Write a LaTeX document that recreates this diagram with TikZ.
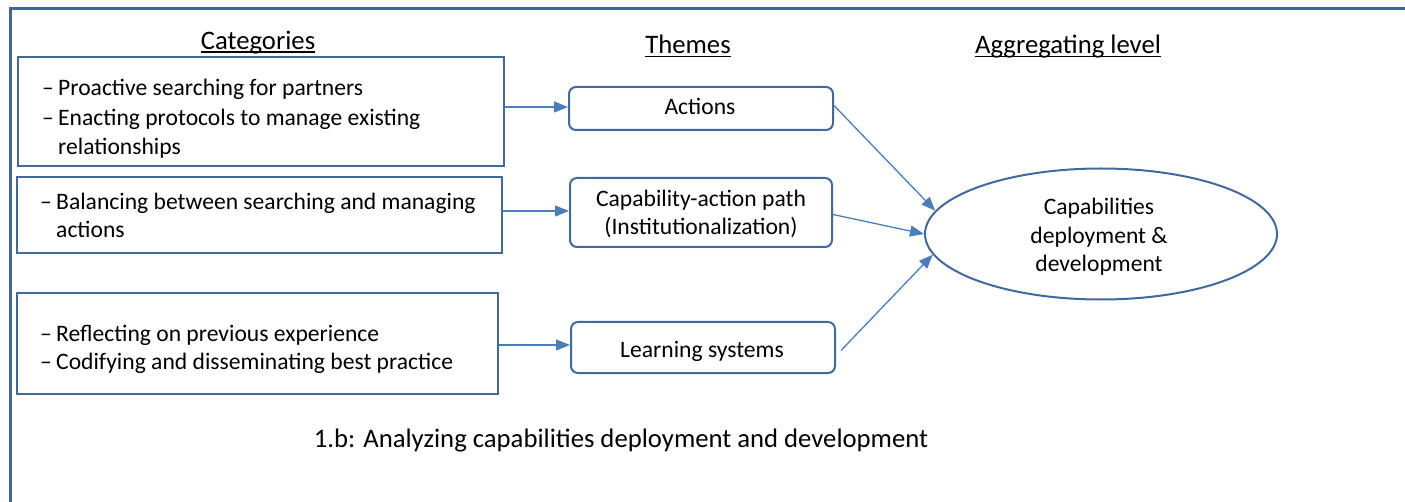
\documentclass[tikz,border=0pt]{standalone}
\usepackage{fontspec}
\setmainfont{Carlito}
\usetikzlibrary{shapes.geometric,arrows.meta}
\definecolor{frameblue}{HTML}{41679A}
\definecolor{boxblue}{HTML}{41699E}
\definecolor{arrowblue}{HTML}{4A7EBB}
\newcommand{\bul}{\makebox[16pt][l]{–}}
\begin{document}
\begin{tikzpicture}[x=1pt,y=-1pt,
  every node/.style={font=\fontsize{23.6}{29.5}\selectfont, text=black},
  catbox/.style={draw=boxblue, line width=2pt, rectangle, inner sep=0pt},
  themebox/.style={draw=boxblue, line width=2pt, rectangle, rounded corners=7pt, inner sep=0pt},
  ln/.style={anchor=base west, inner sep=0pt},
  cln/.style={anchor=base, inner sep=0pt},
  conn/.style={draw=arrowblue, line width=1.3pt, -{Triangle[length=14pt,width=11pt]}},
  heading/.style={anchor=base, inner sep=0pt, font=\fontsize{26.7}{32}\selectfont},
  uline/.style={line width=1.4pt, black}
]
\useasboundingbox (0,0) rectangle (1405,502);
\clip (0,0) rectangle (1405,502);
\fill[white] (0,0) rectangle (1405,502);
% frame
\draw[frameblue, line width=3pt] (10,520) -- (10,9) -- (1420,9);

% headings
\node[heading] (hcat) at (258,50) {Categories};
\node[heading] (hthm) at (688,53.3) {Themes};
\node[heading] (hagg) at (1068,53.3) {Aggregating level};
\draw[uline] ([yshift=-2.2pt]hcat.base west) -- ([yshift=-2.2pt]hcat.base east);
\draw[uline] ([yshift=-3.3pt]hthm.base west) -- ([yshift=-3.3pt]hthm.base east);
\draw[uline] ([yshift=-3.3pt]hagg.base west) -- ([yshift=-3.3pt]hagg.base east);

% category boxes
\node[catbox, minimum width=486pt, minimum height=109pt] (c1) at (261,111.5) {};
\node[catbox, minimum width=485pt, minimum height=76pt] (c2) at (259.5,215) {};
\node[catbox, minimum width=481pt, minimum height=101pt] (c3) at (257.5,343.5) {};

\node[ln] (c1a) at (42,96) {\bul Proactive searching for partners};
\node[ln] (c1b) at (42,125.5) {\bul Enacting protocols to manage existing};
\node[ln] (c1c) at (42,154.5) {\phantom{\bul}relationships};
\node[ln] (c2a) at (40,210) {\bul Balancing between searching and managing};
\node[ln] (c2b) at (40,238) {\phantom{\bul}actions};
\node[ln] (c3a) at (40,341.5) {\bul Reflecting on previous experience};
\node[ln] (c3b) at (40,370) {\bul Codifying and disseminating best practice};

% theme boxes
\node[themebox, minimum width=264pt, minimum height=43pt] (t1) at (701,108.5) {};
\node[themebox, minimum width=262pt, minimum height=69pt] (t2) at (701,212.5) {};
\node[themebox, minimum width=264pt, minimum height=51pt] (t3) at (703,347.5) {};
\node[cln] (t1a) at (700,115) {Actions};
\node[cln] (t2a) at (701,206.7) {Capability-action path};
\node[cln] (t2b) at (701,235) {(Institutionalization)};
\node[cln] (t3a) at (702,357.5) {Learning systems};

% ellipse
\node[draw=boxblue, line width=2pt, ellipse, minimum width=352pt, minimum height=131pt, inner sep=0pt] (agg) at (1101,234) {};
\node[cln] (ag1) at (1099,214.5) {Capabilities};
\node[cln] (ag2) at (1099,243.5) {deployment \&};
\node[cln] (ag3) at (1099,272) {development};

% caption
\node[heading] (cap) at (621,447) {1.b: Analyzing capabilities deployment and development};

% connectors
\draw[conn] (c1.east |- 0,107) -- (t1.west |- 0,107);
\draw[conn] (c2.east |- 0,211) -- (t2.west |- 0,211);
\draw[conn] (c3.east |- 0,345) -- (t3.west |- 0,345);
\draw[conn] ([yshift=3pt]t1.east) -- (agg.172);
\draw[conn] ([yshift=-2pt]t2.east) -- (agg.180);
\draw[conn] ([xshift=5pt,yshift=-3pt]t3.east) -- (agg.187);
\end{tikzpicture}
\end{document}
